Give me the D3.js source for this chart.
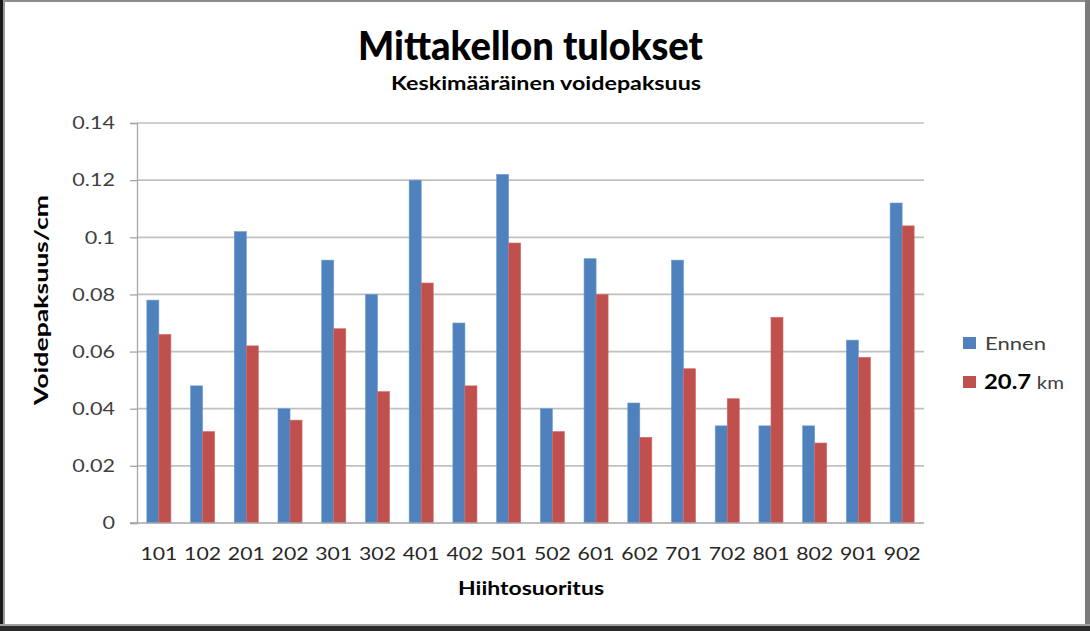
<!DOCTYPE html>
<html>
<head>
<meta charset="utf-8">
<script src="https://cdn.jsdelivr.net/npm/d3@7"></script>
<style>
html,body{margin:0;padding:0;background:#fff;}
svg{display:block;}
text{font-family:Lato,"Open Sans",sans-serif;}
</style>
</head>
<body>
<svg id="chart" width="1090" height="631"></svg>
<script>
const categories = ["101","102","201","202","301","302","401","402","501","502","601","602","701","702","801","802","901","902"];
const ennen = [0.078,0.048,0.102,0.040,0.092,0.080,0.120,0.070,0.122,0.040,0.0925,0.042,0.092,0.034,0.034,0.034,0.064,0.112];
const km207 = [0.066,0.032,0.062,0.036,0.068,0.046,0.084,0.048,0.098,0.032,0.080,0.030,0.054,0.0435,0.072,0.028,0.058,0.104];
const seriesNames = ["Ennen","20.7 km"];
const yTicks = [0,0.02,0.04,0.06,0.08,0.1,0.12,0.14];

const svg = d3.select("#chart");
const W = 1090, H = 631;
const m = {left:137, right:1090-924, top:123, bottom:631-523};

function stretch(sel, k){
  sel.each(function(){
    const L = this.getComputedTextLength();
    d3.select(this).attr("textLength", L*k).attr("lengthAdjust","spacingAndGlyphs");
  });
}

// frame
svg.append("rect").attr("x",0).attr("y",0).attr("width",W).attr("height",H).attr("fill","#fff");
svg.append("rect").attr("x",0).attr("y",0).attr("width",W).attr("height",2).attr("fill","#8c8c8c");
svg.append("rect").attr("x",0).attr("y",0).attr("width",3).attr("height",H).attr("fill","#1a1a1a");
svg.append("rect").attr("x",3).attr("y",0).attr("width",2).attr("height",H).attr("fill","#9a9a9a");
svg.append("rect").attr("x",W-5).attr("y",0).attr("width",5).attr("height",H).attr("fill","#7a7a7a");
svg.append("rect").attr("x",0).attr("y",H-5).attr("width",W).attr("height",5).attr("fill","#2a2a2a");
svg.append("rect").attr("x",0).attr("y",H-7).attr("width",W).attr("height",2).attr("fill","#a0a0a0");

const x = d3.scaleBand().domain(categories).range([m.left, W-m.right]).paddingInner(0.45).paddingOuter(0.225);
const xs = d3.scaleBand().domain(seriesNames).range([0, x.bandwidth()]);
const y = d3.scaleLinear().domain([0,0.14]).range([H-m.bottom, m.top]);

// gridlines
svg.append("g").selectAll("line").data(yTicks.filter(d=>d>0)).join("line")
  .attr("x1",m.left).attr("x2",W-m.right)
  .attr("y1",d=>y(d)).attr("y2",d=>y(d))
  .attr("stroke","#c0c0c0").attr("stroke-width",1.7);

// y axis
const yAxis = svg.append("g").attr("transform",`translate(${m.left},0)`)
  .call(d3.axisLeft(y).tickValues(yTicks).tickFormat(d=>String(d)).tickSize(7).tickPadding(15));
yAxis.select(".domain").attr("stroke","#a6a6a6").attr("stroke-width",1.3);
yAxis.selectAll(".tick line").attr("stroke","#a6a6a6").attr("stroke-width",1.3);
yAxis.selectAll("text").attr("font-size",18).attr("fill","#404040").attr("font-family","Lato, sans-serif");
stretch(yAxis.selectAll("text"), 1.2);

// bars
const data = categories.map((c,i)=>({c, vals:[{s:seriesNames[0],v:ennen[i]},{s:seriesNames[1],v:km207[i]}]}));
const colors = d3.scaleOrdinal().domain(seriesNames).range(["#4F81BD","#C0504D"]);
const strokes = d3.scaleOrdinal().domain(seriesNames).range(["#6a9ad4","#d36a67"]);
svg.append("g").selectAll("g").data(data).join("g")
  .attr("transform",d=>`translate(${x(d.c)},0)`)
  .selectAll("rect").data(d=>d.vals).join("rect")
  .attr("x",d=>xs(d.s)).attr("width",xs.bandwidth())
  .attr("y",d=>y(d.v)).attr("height",d=>y(0)-y(d.v))
  .attr("fill",d=>colors(d.s)).attr("stroke",d=>strokes(d.s)).attr("stroke-width",0.6);

// x axis
const xAxis = svg.append("g").attr("transform",`translate(0,${y(0)})`)
  .call(d3.axisBottom(x).tickSize(0).tickPadding(24));
xAxis.select(".domain").attr("stroke","#a6a6a6").attr("stroke-width",1.3).attr("d",`M${m.left-7},0H${W-m.right}`);
xAxis.selectAll("text").attr("font-size",18).attr("fill","#262626").attr("font-family","Lato, sans-serif");
stretch(xAxis.selectAll("text"), 1.18);

// titles
svg.append("text").attr("x",530.5).attr("y",60).attr("text-anchor","middle")
  .attr("font-size",39).attr("font-weight","900").attr("fill","#000")
  .attr("textLength",345).attr("lengthAdjust","spacingAndGlyphs").text("Mittakellon tulokset");
svg.append("text").attr("x",546).attr("y",90).attr("text-anchor","middle")
  .attr("font-size",18).attr("font-weight","bold").attr("fill","#000")
  .attr("textLength",310).attr("lengthAdjust","spacingAndGlyphs").text("Keskimääräinen voidepaksuus");
svg.append("text").attr("transform","translate(48,300) rotate(-90)").attr("text-anchor","middle")
  .attr("font-size",19).attr("font-weight","bold").attr("fill","#000")
  .attr("textLength",210).attr("lengthAdjust","spacingAndGlyphs").text("Voidepaksuus/cm");
svg.append("text").attr("x",531).attr("y",595).attr("text-anchor","middle")
  .attr("font-size",19).attr("font-weight","bold").attr("fill","#000")
  .attr("textLength",146).attr("lengthAdjust","spacingAndGlyphs").text("Hiihtosuoritus");

// legend
const lg = svg.append("g");
const ly = [343, 382];
lg.selectAll("rect").data(seriesNames).join("rect")
  .attr("x",963).attr("y",(d,i)=>ly[i]-6).attr("width",13).attr("height",12)
  .attr("fill",d=>colors(d));
lg.append("text").attr("x",985).attr("y",ly[0]+6.5).attr("font-size",18).attr("fill","#404040")
  .attr("textLength",61).attr("lengthAdjust","spacingAndGlyphs").text(seriesNames[0]);
const t2 = lg.append("text").attr("x",984).attr("y",ly[1]+7).attr("font-size",18)
  .attr("textLength",80).attr("lengthAdjust","spacingAndGlyphs");
const parts = seriesNames[1].split(" ");
t2.append("tspan").attr("font-weight","bold").attr("font-size",21).attr("fill","#000").text(parts[0]);
t2.append("tspan").attr("fill","#404040").attr("dx",5).text(parts[1]);
</script>
</body>
</html>
